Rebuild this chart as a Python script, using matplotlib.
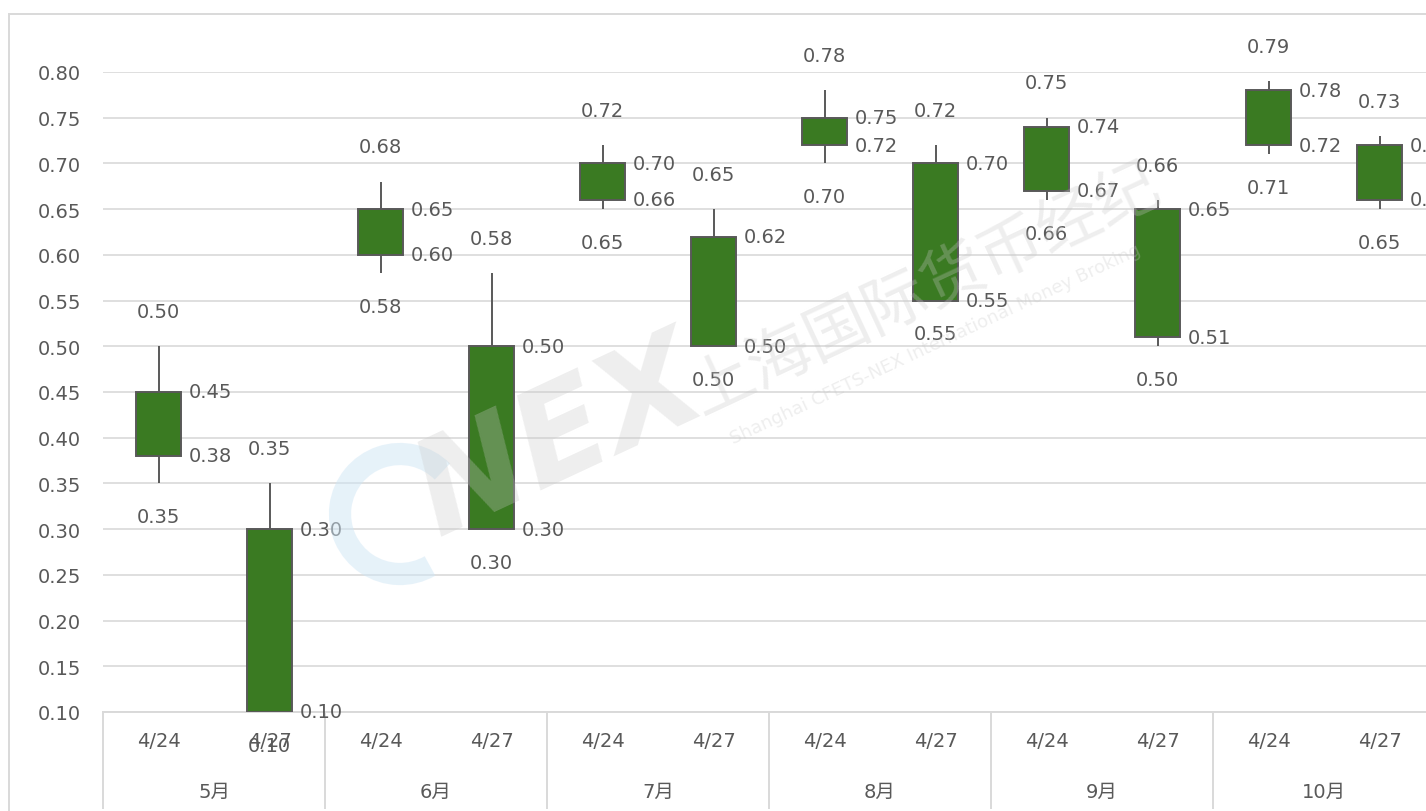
import matplotlib.pyplot as plt
from matplotlib.patches import Rectangle, Arc
from matplotlib.transforms import blended_transform_factory, IdentityTransform

# ---------------------------
# Data
# ---------------------------
months = ["5月", "6月", "7月", "8月", "9月", "10月"]
dates = ["4/24", "4/27"] * 6
high = [0.50, 0.35, 0.68, 0.58, 0.72, 0.65, 0.78, 0.72, 0.75, 0.66, 0.79, 0.73]
box_top = [0.45, 0.30, 0.65, 0.50, 0.70, 0.62, 0.75, 0.70, 0.74, 0.65, 0.78, 0.72]
box_bottom = [0.38, 0.10, 0.60, 0.30, 0.66, 0.50, 0.72, 0.55, 0.67, 0.51, 0.72, 0.66]
low = [0.35, 0.10, 0.58, 0.30, 0.65, 0.50, 0.70, 0.55, 0.66, 0.50, 0.71, 0.65]
y_ticks = [0.10, 0.15, 0.20, 0.25, 0.30, 0.35, 0.40, 0.45, 0.50, 0.55, 0.60, 0.65, 0.70, 0.75, 0.80]

TXT = "#595959"
GREEN = "#3a7a22"
GRID = "#d9d9d9"
FONT = ["DejaVu Sans", "Noto Sans CJK SC"]
plt.rcParams["font.family"] = FONT
FS = 14

W, H = 1426, 812
fig = plt.figure(figsize=(W / 100, H / 100), dpi=100)
ax = fig.add_axes([103 / W, 1 - 713 / H, 1332 / W, 640 / H])

x = list(range(len(dates)))

# gridlines
for t in y_ticks:
    ax.axhline(t, color=GRID, lw=1.2, zorder=0)

# candles
heights = [t - b for t, b in zip(box_top, box_bottom)]
ax.vlines(x, low, high, color=TXT, lw=1.4, zorder=2)
ax.bar(x, heights, bottom=box_bottom, width=0.4, color=GREEN,
       edgecolor=TXT, linewidth=1.4, zorder=3)

# value labels
for i in x:
    kw = dict(textcoords="offset points", color=TXT, fontsize=FS,
              annotation_clip=False, zorder=5)
    ax.annotate(f"{high[i]:.2f}", (i, high[i]), xytext=(0, 25),
                ha="center", va="center", **kw)
    ax.annotate(f"{low[i]:.2f}", (i, low[i]), xytext=(0, -24),
                ha="center", va="center", **kw)
    ax.annotate(f"{box_top[i]:.2f}", (i, box_top[i]), xytext=(22, 0),
                ha="left", va="center", **kw)
    ax.annotate(f"{box_bottom[i]:.2f}", (i, box_bottom[i]), xytext=(22, 0),
                ha="left", va="center", **kw)

ax.set_xlim(-0.5, len(dates) - 0.5)
ax.set_ylim(0.10, 0.80)
ax.set_yticks(y_ticks)
ax.set_yticklabels([f"{t:.2f}" for t in y_ticks])
ax.tick_params(axis="y", length=0, pad=16, labelsize=FS, labelcolor=TXT)
ax.set_xticks([])
for s in ax.spines.values():
    s.set_visible(False)

# two level category axis
trans = blended_transform_factory(ax.transData, ax.transAxes)
ax.plot([-0.5, len(dates) - 0.5], [0, 0], transform=trans, color=GRID,
        lw=1.4, clip_on=False)
for g in range(len(months) + 1):
    bx = g * 2 - 0.5
    ax.plot([bx, bx], [0, -0.15], transform=trans, color=GRID, lw=1.4,
            clip_on=False)
for i, d in enumerate(dates):
    ax.text(i, -29 / 640, d, transform=trans, ha="center", va="center",
            color=TXT, fontsize=FS)
for g, m in enumerate(months):
    ax.text(g * 2 + 0.5, -79 / 640, m, transform=trans, ha="center",
            va="center", color=TXT, fontsize=FS, family=FONT)

# watermark
wm = dict(transform=fig.transFigure, rotation=25, ha="center", va="center",
          zorder=6, alpha=0.3, color="#c8c8c8")
fig.text(560 / W, 1 - 440 / H, "NEX", fontsize=95, fontweight="bold",
         style="italic", **wm)
fig.text(925 / W, 1 - 290 / H, "上海国际货币经纪", fontsize=46,
         family=["Noto Sans CJK SC"], **wm)
fig.text(935 / W, 1 - 345 / H, "Shanghai CFETS-NEX International Money Broking",
         fontsize=13, **wm)
fig.patches.append(Arc((400, H - 515), 120, 120, theta1=45, theta2=300,
                       transform=IdentityTransform(), color="#cfe6f5",
                       lw=16, alpha=0.5, zorder=6))

# outer frame
fig.patches.append(Rectangle((9 / W, -0.05), 1.2, 1 - 15 / H + 0.05,
                             transform=fig.transFigure, fill=False,
                             edgecolor="#d9d9d9", lw=1.4))

fig.savefig("out.png", dpi=100)
